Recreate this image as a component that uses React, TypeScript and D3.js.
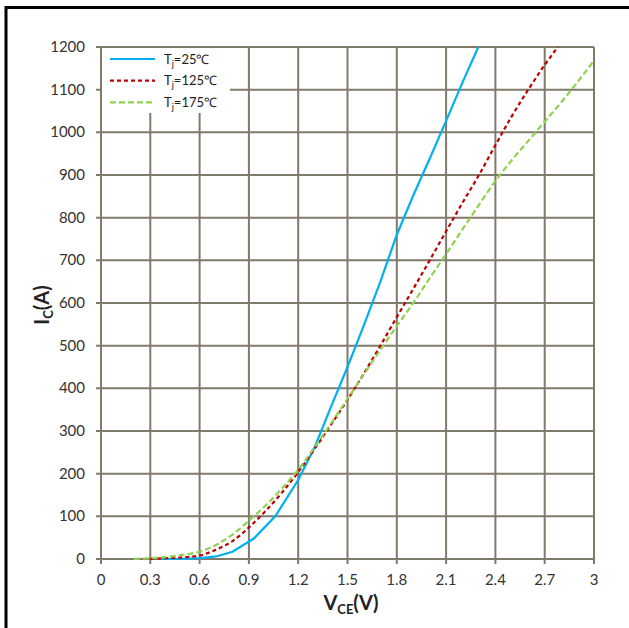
import React from "react";
import * as d3 from "d3";

const xTicks = [0, 0.3, 0.6, 0.9, 1.2, 1.5, 1.8, 2.1, 2.4, 2.7, 3];
const xTickLabels = ["0", "0.3", "0.6", "0.9", "1.2", "1.5", "1.8", "2.1", "2.4", "2.7", "3"];
const yTicks = [0, 100, 200, 300, 400, 500, 600, 700, 800, 900, 1000, 1100, 1200];

const seriesNames = ["25℃", "125℃", "175℃"];

// Tj = 25°C
const vce25 = [0.35, 0.5, 0.6, 0.7, 0.8, 0.93, 1.06, 1.2, 1.3, 1.4, 1.5, 1.6, 1.7, 1.8, 1.9, 2.0, 2.1, 2.2, 2.296];
const ic25 = [0, 0.5, 2, 6, 17, 48, 100, 185, 262, 357, 450, 548, 650, 760, 852, 938, 1027, 1117, 1200];

// Tj = 125°C
const vce125 = [0.3, 0.4, 0.5, 0.6, 0.7, 0.8, 0.9, 1.0, 1.1, 1.2, 1.3, 1.4, 1.5, 1.6, 1.7, 1.8, 1.9, 2.0, 2.1, 2.2, 2.3, 2.4, 2.5, 2.6, 2.7, 2.78];
const ic125 = [0, 2, 4, 8, 22, 42, 74, 112, 155, 204, 258, 315, 373, 435, 500, 567, 633, 700, 768, 835, 900, 970, 1038, 1100, 1158, 1200];

// Tj = 175°C
const vce175 = [0.2, 0.3, 0.4, 0.5, 0.6, 0.7, 0.8, 0.9, 1.0, 1.1, 1.2, 1.3, 1.4, 1.5, 1.6, 1.7, 1.8, 1.9, 2.0, 2.1, 2.2, 2.3, 2.4, 2.5, 2.6, 2.7, 2.8, 2.9, 3.0];
const ic175 = [0, 2, 5, 10, 17, 33, 57, 90, 125, 165, 209, 262, 318, 375, 433, 490, 546, 600, 658, 715, 773, 830, 886, 935, 980, 1025, 1070, 1118, 1168];

const W = 629;
const H = 628;
const M = { left: 101, right: 594, top: 47, bottom: 559 };
const FONT = "Lato, 'Open Sans', sans-serif";

export default function App() {
  const x = d3.scaleLinear().domain([0, 3]).range([M.left, M.right]);
  const y = d3.scaleLinear().domain([0, 1200]).range([M.bottom, M.top]);

  const mk = (xs: number[], ys: number[]) => xs.map((v, i) => [v, ys[i]] as [number, number]);
  const linear = d3.line<[number, number]>().x(d => x(d[0])).y(d => y(d[1])).curve(d3.curveLinear);
  const smooth = d3.line<[number, number]>().x(d => x(d[0])).y(d => y(d[1])).curve(d3.curveMonotoneX);

  const series = [
    { name: seriesNames[0], d: linear(mk(vce25, ic25)), color: "#00b0f0", dash: undefined as string | undefined },
    { name: seriesNames[1], d: smooth(mk(vce125, ic125)), color: "#c00000", dash: "4,3" },
    { name: seriesNames[2], d: smooth(mk(vce175, ic175)), color: "#92d050", dash: "6,3" },
  ];

  const gridColor = "#7f7a69";

  return (
    <svg width={W} height={H} style={{ position: "absolute", left: 0, top: 0, background: "#fff" }}>
      <rect x={0} y={0} width={W} height={H} fill="#fff" />
      {/* outer border lines */}
      <line x1={5} x2={W} y1={7.5} y2={7.5} stroke="#000" strokeWidth={3} />
      <line x1={6} x2={6} y1={6} y2={H} stroke="#000" strokeWidth={3} />

      {/* grid */}
      {xTicks.map((t, i) => (
        <line key={"gx" + i} x1={x(t)} x2={x(t)} y1={M.top} y2={M.bottom + 5} stroke={gridColor} strokeWidth={2} />
      ))}
      {yTicks.map((t, i) => (
        <line key={"gy" + i} x1={M.left - 5} x2={M.right} y1={y(t)} y2={y(t)} stroke={gridColor} strokeWidth={2} />
      ))}

      {/* legend background */}
      <rect x={M.left + 1} y={M.top + 1} width={128} height={65} fill="#fff" />

      {/* curves */}
      {series.map((s, i) => (
        <path key={"s" + i} d={s.d || ""} fill="none" stroke={s.color} strokeWidth={2.2} strokeDasharray={s.dash} />
      ))}

      {/* tick labels */}
      {yTicks.map((t, i) => (
        <text key={"ly" + i} x={85} y={y(t) + 5} textAnchor="end" fontFamily={FONT} fontSize={15} fill="#333">
          {t}
        </text>
      ))}
      {xTicks.map((t, i) => (
        <text key={"lx" + i} x={x(t)} y={585} textAnchor="middle" fontFamily={FONT} fontSize={15} fill="#333">
          {xTickLabels[i]}
        </text>
      ))}

      {/* legend */}
      {series.map((s, i) => {
        const ly = 59 + i * 21.7;
        return (
          <g key={"lg" + i}>
            <line x1={110} x2={155} y1={ly} y2={ly} stroke={s.color} strokeWidth={2.2} strokeDasharray={s.dash} />
            <text x={164} y={ly + 4.5} fontFamily={FONT} fontSize={13} fill="#222">
              T<tspan dy={3} fontSize={9}>j</tspan>
              <tspan dy={-3}>={s.name}</tspan>
            </text>
          </g>
        );
      })}

      {/* axis titles */}
      <text x={351} y={610} textAnchor="middle" fontFamily={FONT} fontSize={20} fontWeight="bold" fill="#222">
        V<tspan dy={4} fontSize={13}>CE</tspan>
        <tspan dy={-4}>(V)</tspan>
      </text>
      <text
        transform={`translate(49,${305}) rotate(-90)`}
        textAnchor="middle"
        fontFamily={FONT}
        fontSize={20}
        fontWeight="bold"
        fill="#222"
      >
        I<tspan dy={4} fontSize={13}>C</tspan>
        <tspan dy={-4}>(A)</tspan>
      </text>
    </svg>
  );
}
